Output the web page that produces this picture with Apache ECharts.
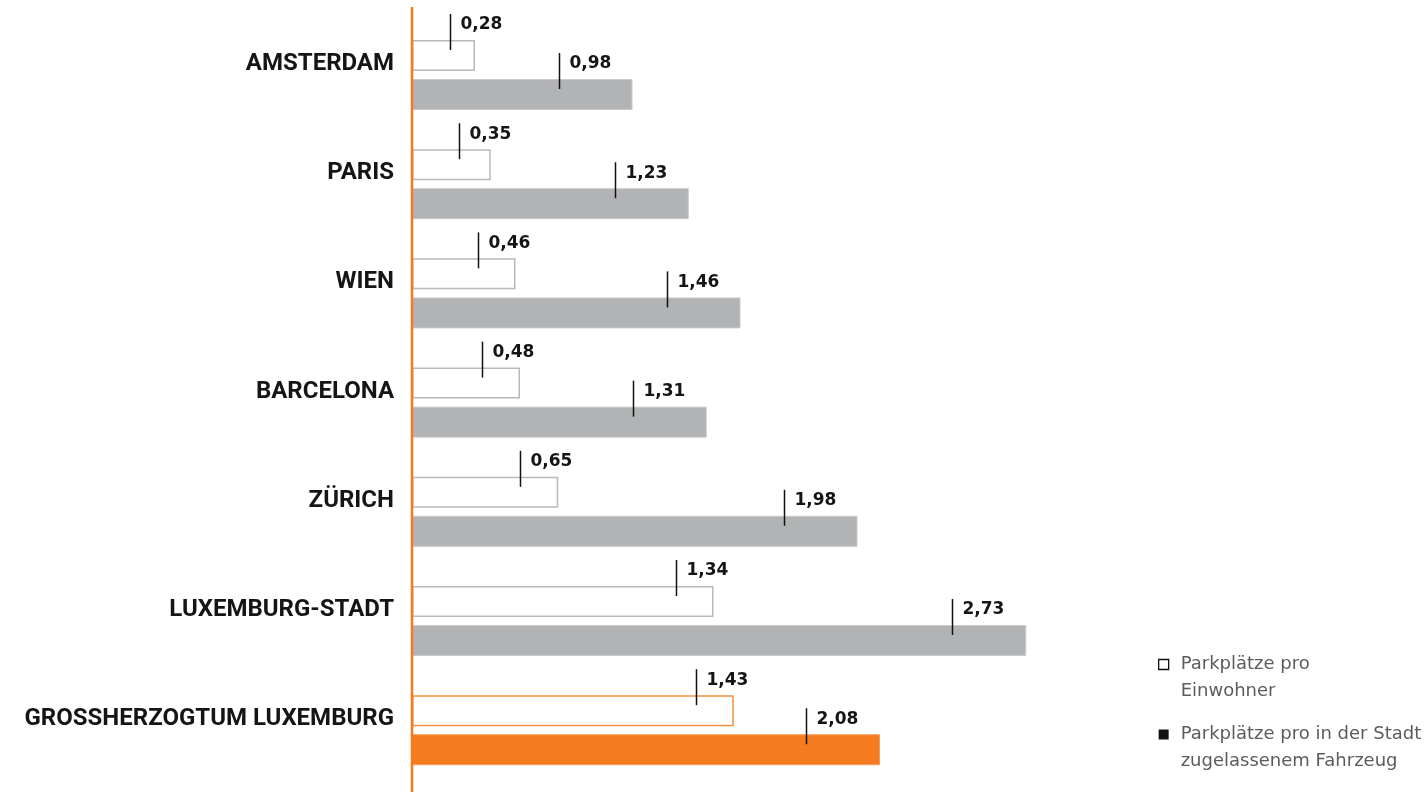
<!DOCTYPE html>
<html>
<head>
<meta charset="utf-8">
<script src="https://cdn.jsdelivr.net/npm/echarts@6/dist/echarts.min.js"></script>
<style>html,body{margin:0;padding:0;background:#fff}#c{width:1428px;height:792px}</style>
</head>
<body>
<div id="c"></div>
<script>
const categories = ['AMSTERDAM', 'PARIS', 'WIEN', 'BARCELONA', 'ZÜRICH', 'LUXEMBURG-STADT', 'GROSSHERZOGTUM LUXEMBURG'];
const perResident = [0.28, 0.35, 0.46, 0.48, 0.65, 1.34, 1.43];
const perVehicle = [0.98, 1.23, 1.46, 1.31, 1.98, 2.73, 2.08];
const seriesNames = ['Parkplätze pro Einwohner', 'Parkplätze pro in der Stadt zugelassenem Fahrzeug'];
const legendLines = {
  'Parkplätze pro Einwohner': ['Parkplätze pro', 'Einwohner'],
  'Parkplätze pro in der Stadt zugelassenem Fahrzeug': ['Parkplätze pro in der Stadt', 'zugelassenem Fahrzeug']
};

const ORANGE = '#f47b20';
const highlightIndex = categories.length - 1;
const fmt = v => v.toFixed(2).replace('.', ',');

const residentData = perResident.map((v, i) => i === highlightIndex
  ? { value: v, itemStyle: { color: '#fff', borderColor: '#f5913f', borderWidth: 1.5 } }
  : v);
const vehicleData = perVehicle.map((v, i) => i === highlightIndex
  ? { value: v, itemStyle: { color: ORANGE, borderColor: '#f79a55', borderWidth: 1 } }
  : v);

function markerSeries(values, side, offsetFn) {
  return {
    type: 'custom',
    name: 'marker' + side,
    silent: true,
    z: 5,
    encode: { x: 0, y: 1 },
    data: values.map((v, i) => [v, i]),
    renderItem: function (params, api) {
      const v = api.value(0), i = api.value(1);
      const end = api.coord([v, i]);
      const zero = api.coord([0, i]);
      const len = end[0] - zero[0];
      const cy = end[1] + side * 19.5;
      const top = cy - 15.5;
      const x = Math.round(end[0] - offsetFn(len)) + 0.5;
      return {
        type: 'group',
        children: [
          { type: 'line', shape: { x1: x, y1: top - 26, x2: x, y2: top + 10 },
            style: { stroke: '#111', lineWidth: 1.5 } },
          { type: 'text', x: x + 10, y: top - 15,
            style: { text: fmt(v), fill: '#151515', fontFamily: 'DejaVu Sans', fontWeight: 'bold',
                     fontSize: 17, verticalAlign: 'middle', align: 'left' } }
        ]
      };
    }
  };
}

const chart = echarts.init(document.getElementById('c'));
chart.setOption({
  animation: false,
  backgroundColor: '#fff',
  grid: { left: 412, width: 900, top: 20.4, height: 764.4 },
  xAxis: { type: 'value', min: 0, max: 4, show: false },
  yAxis: {
    type: 'category', data: categories, inverse: true,
    axisLine: { show: false }, axisTick: { show: false },
    axisLabel: {
      margin: 18, color: '#151515', fontFamily: 'Roboto', fontWeight: 'bold', fontSize: 24,
      lineHeight: 22, verticalAlign: 'bottom'
    }
  },
  legend: {
    orient: 'vertical', left: 1158, top: 624, itemWidth: 10, itemHeight: 10, itemGap: -11,
    padding: 0,
    selectedMode: false,
    formatter: name => ' \n' + legendLines[name].join('\n'),
    textStyle: { fontFamily: 'DejaVu Sans', fontSize: 18, color: '#5c5c5c', lineHeight: 27, padding: [0, 0, 0, 7] },
    data: [
      { name: seriesNames[0], icon: 'rect', itemStyle: { color: '#fff', borderColor: '#111', borderWidth: 1.3 } },
      { name: seriesNames[1], icon: 'rect', itemStyle: { color: '#111', borderWidth: 0 } }
    ]
  },
  series: [
    { type: 'bar', name: seriesNames[0], data: residentData, barWidth: 31, barGap: '26%',
      itemStyle: { color: '#fff', borderColor: '#b9b9b9', borderWidth: 1.5 } },
    { type: 'bar', name: seriesNames[1], data: vehicleData, barWidth: 31, barGap: '26%',
      itemStyle: { color: '#b1b3b5', borderColor: '#c8cacb', borderWidth: 1 } },
    markerSeries(perResident, -1, len => Math.min(38, len * 0.4)),
    markerSeries(perVehicle, 1, len => 74)
  ]
});

const x0 = Math.round(chart.convertToPixel({ xAxisIndex: 0 }, 0));
chart.setOption({
  graphic: [{
    type: 'line', z: 100, silent: true,
    shape: { x1: x0, y1: 7, x2: x0, y2: 792 },
    style: { stroke: ORANGE, lineWidth: 2.5 }
  }]
});
</script>
</body>
</html>
